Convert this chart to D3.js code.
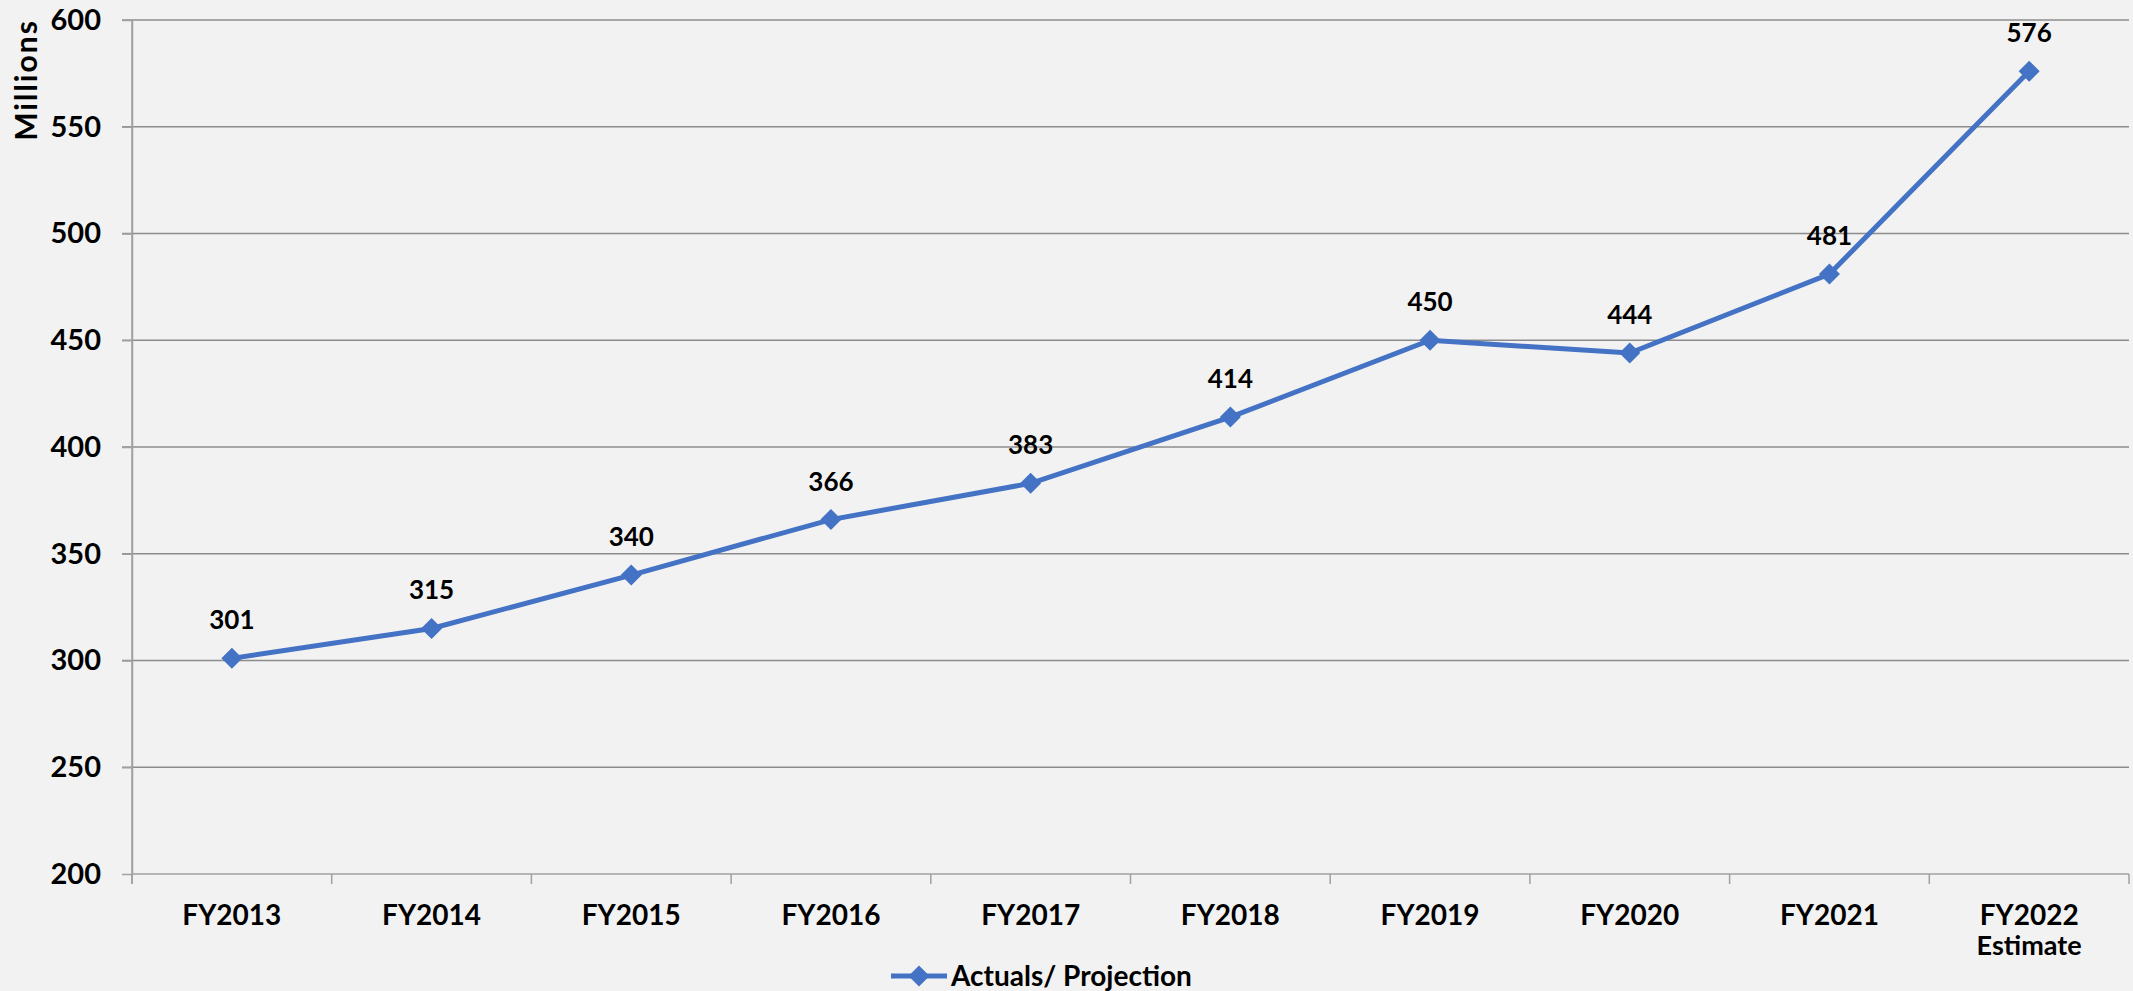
<!DOCTYPE html>
<html>
<head>
<meta charset="utf-8">
<script src="https://cdn.jsdelivr.net/npm/d3@7"></script>
<style>
  body { margin: 0; background: #f2f2f2; }
  svg { display: block; font-family: Lato, "Open Sans", sans-serif; font-weight: bold; }
  .axis path, .axis line { stroke: #a0a0a0; stroke-width: 1.5px; }
  .grid line { stroke: #8c8c8c; stroke-width: 1.5px; }
</style>
</head>
<body>
<svg width="2133" height="991"></svg>
<script>
var years = ["FY2013", "FY2014", "FY2015", "FY2016", "FY2017", "FY2018", "FY2019", "FY2020", "FY2021", "FY2022"];
var subLabels = ["", "", "", "", "", "", "", "", "", "Estimate"];
var actuals = [301, 315, 340, 366, 383, 414, 450, 444, 481, 576];
var yTicks = [200, 250, 300, 350, 400, 450, 500, 550, 600];
var seriesName = "Actuals/ Projection";

var svg = d3.select("svg"),
    margin = {top: 20, right: 4, bottom: 117, left: 132},
    width = svg.attr("width") - margin.left - margin.right,
    height = svg.attr("height") - margin.top - margin.bottom;

var blue = "#4472c4";

var x = d3.scaleBand().domain(years).range([0, width]),
    y = d3.scaleLinear().domain([200, 600]).range([height, 0]);

var g = svg.append("g")
    .attr("transform", "translate(" + margin.left + "," + margin.top + ")");

// horizontal gridlines (extend left like excel ticks)
g.append("g")
    .attr("class", "grid")
  .selectAll("line")
  .data(yTicks.slice(1))
  .enter().append("line")
    .attr("x1", -10)
    .attr("x2", width)
    .attr("y1", function(d) { return y(d); })
    .attr("y2", function(d) { return y(d); });

// y axis
var yAxis = g.append("g")
    .attr("class", "axis axis--y")
    .call(d3.axisLeft(y).tickValues(yTicks).tickSize(10).tickSizeOuter(0).tickPadding(21));
yAxis.selectAll("text")
    .attr("font-size", 29)
    .attr("font-family", "Lato, sans-serif")
    .attr("font-weight", "bold")
    .attr("fill", "#000");

// x axis, ticks between categories
var xAxisG = g.append("g")
    .attr("class", "axis axis--x")
    .attr("transform", "translate(0," + height + ")");
xAxisG.append("line")
    .attr("x1", 0).attr("x2", width);
xAxisG.selectAll(".xtick")
  .data(d3.range(years.length + 1))
  .enter().append("line")
    .attr("class", "xtick")
    .attr("x1", function(i) { return i * x.step(); })
    .attr("x2", function(i) { return i * x.step(); })
    .attr("y1", 0)
    .attr("y2", 10);
xAxisG.selectAll(".xlabel")
  .data(years)
  .enter().append("text")
    .attr("class", "xlabel")
    .attr("x", function(d) { return x(d) + x.bandwidth() / 2; })
    .attr("y", 51)
    .attr("text-anchor", "middle")
    .attr("font-size", 28)
    .text(function(d) { return d; });
xAxisG.selectAll(".xsub")
  .data(years)
  .enter().append("text")
    .attr("class", "xsub")
    .attr("x", function(d) { return x(d) + x.bandwidth() / 2; })
    .attr("y", 81)
    .attr("text-anchor", "middle")
    .attr("font-size", 27)
    .text(function(d, i) { return subLabels[i]; });

// left axis line
g.append("line")
    .attr("x1", 0).attr("x2", 0)
    .attr("y1", 0).attr("y2", height + 10)
    .attr("stroke", "#a0a0a0")
    .attr("stroke-width", 1.5);

var line = d3.line()
    .x(function(d, i) { return x(years[i]) + x.bandwidth() / 2; })
    .y(function(d) { return y(d); });

g.append("path")
    .datum(actuals)
    .attr("fill", "none")
    .attr("stroke", blue)
    .attr("stroke-width", 5)
    .attr("d", line);

var diamond = "M0,-10.5L10.5,0L0,10.5L-10.5,0Z";

g.selectAll(".dot")
  .data(actuals)
  .enter().append("path")
    .attr("class", "dot")
    .attr("d", diamond)
    .attr("fill", blue)
    .attr("transform", function(d, i) {
      return "translate(" + (x(years[i]) + x.bandwidth() / 2) + "," + y(d) + ")";
    });

g.selectAll(".val")
  .data(actuals)
  .enter().append("text")
    .attr("class", "val")
    .attr("x", function(d, i) { return x(years[i]) + x.bandwidth() / 2; })
    .attr("y", function(d) { return y(d) - 29; })
    .attr("text-anchor", "middle")
    .attr("font-size", 26)
    .text(function(d) { return d; });

// y axis title
svg.append("text")
    .attr("transform", "translate(37,80)rotate(-90)")
    .attr("text-anchor", "middle")
    .attr("font-size", 30)
    .attr("letter-spacing", 2)
    .text("Millions");

// legend
var legend = svg.append("g")
    .attr("transform", "translate(891,976)");
legend.append("line")
    .attr("x1", 0).attr("x2", 56)
    .attr("stroke", blue)
    .attr("stroke-width", 5);
legend.append("path")
    .attr("d", diamond)
    .attr("fill", blue)
    .attr("transform", "translate(28,0)");
legend.append("text")
    .attr("x", 60)
    .attr("y", 10)
    .attr("font-size", 28)
    .text(seriesName);
</script>
</body>
</html>
